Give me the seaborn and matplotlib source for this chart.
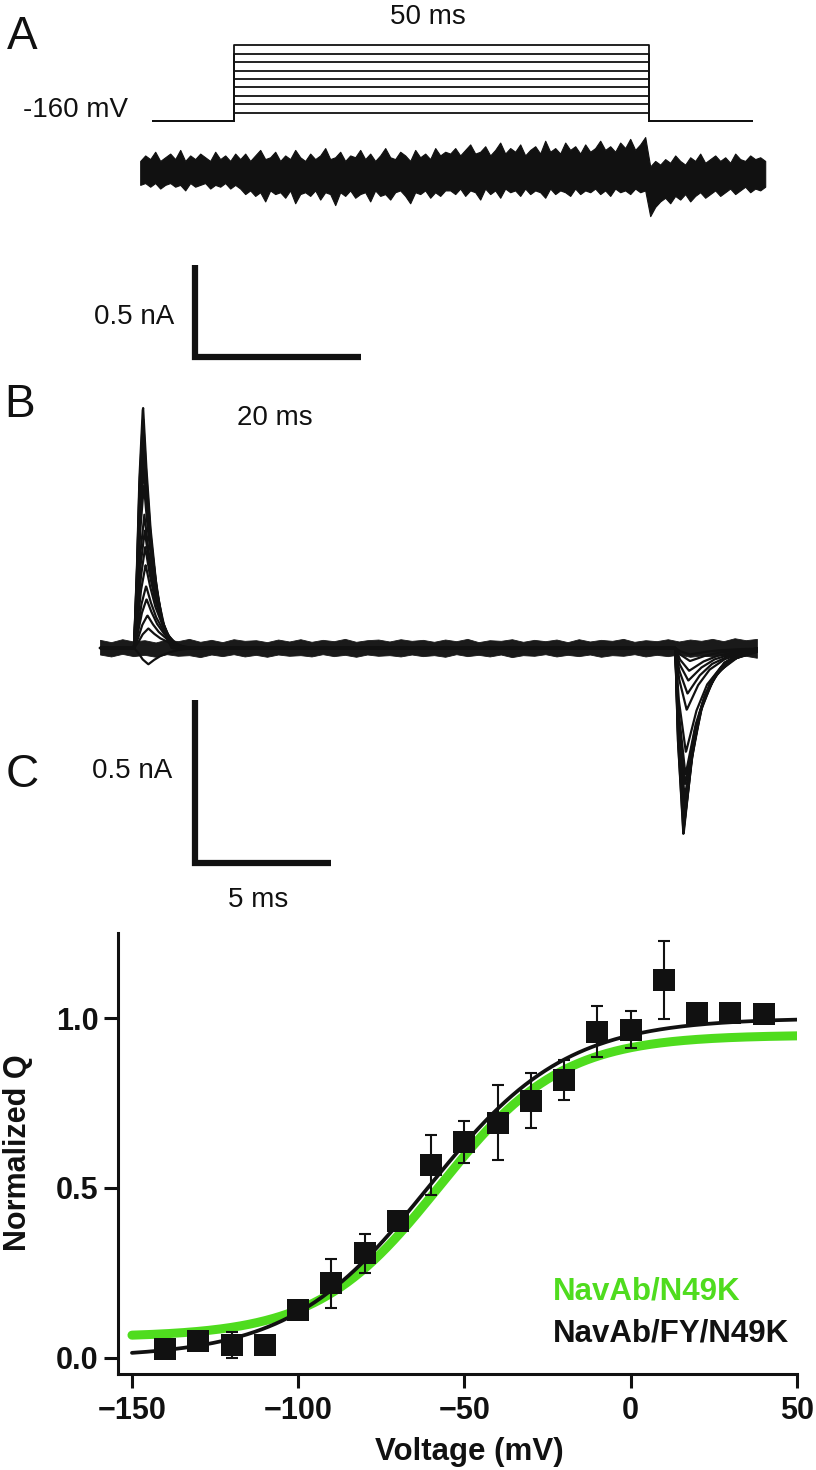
import numpy as np
import pandas as pd
import matplotlib
matplotlib.use("Agg")
import matplotlib.pyplot as plt
import seaborn as sns

sns.set_theme(style="white")
plt.rcParams['font.family'] = ['Liberation Sans', 'DejaVu Sans']

# ---------------- data ----------------
# Panel A: voltage protocol
hold_mV = -160
step_mV = [-140, -120, -100, -80, -60, -40, -20, 0, 20]
pulse_ms = 50
pre_ms, post_ms = 9.8, 12.4

# Panel A: current trace envelope (nA), read on a regular time grid
traceA_start, traceA_end = -11.3, 64.0
upperA = [0.06, 0.09, 0.07, 0.11, 0.06, 0.08, 0.10, 0.07, 0.12, 0.06, 0.09, 0.07, 0.10, 0.08, 0.06, 0.11, 0.07, 0.09, 0.06, 0.10,
          0.07, 0.10, 0.06, 0.09, 0.12, 0.07, 0.08, 0.11, 0.06, 0.09,
          0.07, 0.12, 0.08, 0.06, 0.10, 0.07, 0.09, 0.13, 0.07, 0.08,
          0.11, 0.06, 0.09, 0.08, 0.12, 0.07, 0.10, 0.06, 0.09, 0.13,
          0.08, 0.07, 0.11, 0.09, 0.06, 0.12, 0.08, 0.10, 0.07, 0.13,
          0.09, 0.11,
          0.10, 0.13, 0.09, 0.12, 0.15, 0.10, 0.11, 0.14, 0.09, 0.12,
          0.16, 0.10, 0.13, 0.11, 0.15, 0.09, 0.12, 0.14, 0.10, 0.17,
          0.11, 0.13, 0.10, 0.16, 0.12, 0.14, 0.10, 0.15, 0.11, 0.13,
          0.17, 0.12, 0.14, 0.11, 0.16, 0.13, 0.18, 0.12, 0.15, 0.19,
          0.03, 0.06, 0.04, 0.07, 0.05, 0.09, 0.06, 0.04, 0.08, 0.06,
          0.10, 0.05, 0.07, 0.09, 0.06, 0.08, 0.05, 0.10, 0.07, 0.06,
          0.09, 0.07, 0.08, 0.06]
lowerA = [-0.07, -0.06, -0.08, -0.06, -0.09, -0.07, -0.06, -0.08, -0.07, -0.10, -0.06, -0.08, -0.07, -0.06, -0.09, -0.07, -0.08, -0.06, -0.09, -0.07,
          -0.09, -0.12, -0.10, -0.13, -0.11, -0.16, -0.10, -0.12, -0.11, -0.14,
          -0.10, -0.17, -0.12, -0.11, -0.13, -0.10, -0.15, -0.11, -0.12, -0.18,
          -0.11, -0.13, -0.10, -0.14, -0.12, -0.11, -0.16, -0.10, -0.13, -0.12,
          -0.15, -0.11, -0.10, -0.13, -0.17, -0.11, -0.12, -0.10, -0.14, -0.11,
          -0.13, -0.10,
          -0.10, -0.12, -0.09, -0.13, -0.10, -0.11, -0.15, -0.09, -0.12, -0.10,
          -0.14, -0.09, -0.11, -0.10, -0.13, -0.09, -0.12, -0.10, -0.11, -0.14,
          -0.09, -0.12, -0.10, -0.11, -0.13, -0.09, -0.12, -0.10, -0.11, -0.09,
          -0.12, -0.10, -0.13, -0.09, -0.11, -0.10, -0.12, -0.09, -0.11, -0.10,
          -0.24, -0.19, -0.16, -0.14, -0.17, -0.13, -0.15, -0.12, -0.16, -0.13,
          -0.11, -0.14, -0.12, -0.10, -0.13, -0.11, -0.09, -0.12, -0.10, -0.08,
          -0.11, -0.09, -0.10, -0.08]

# Panel B: gating currents
traceB_start, traceB_end = -1.25, 22.9
off_onset_ms = 19.9
upperB = [0.025, 0.018, 0.027, 0.020, 0.024, 0.017, 0.026, 0.021, 0.028, 0.019,
          0.025, 0.018, 0.027, 0.022, 0.024, 0.018, 0.026, 0.020, 0.027, 0.019,
          0.025, 0.021, 0.028, 0.019, 0.024, 0.026, 0.020, 0.027, 0.022, 0.025,
          0.019, 0.026, 0.021, 0.028, 0.018, 0.024, 0.022, 0.027, 0.019, 0.025,
          0.021, 0.026, 0.018, 0.027, 0.020, 0.025, 0.022, 0.028, 0.019, 0.024,
          0.021, 0.027, 0.020, 0.026, 0.022, 0.028, 0.021, 0.030, 0.024, 0.028]
lowerB = [-0.020, -0.026, -0.018, -0.025, -0.021, -0.027, -0.019, -0.024, -0.022, -0.028,
          -0.020, -0.025, -0.019, -0.026, -0.021, -0.027, -0.020, -0.024, -0.022, -0.026,
          -0.019, -0.025, -0.021, -0.027, -0.020, -0.024, -0.022, -0.026, -0.020, -0.025,
          -0.022, -0.027, -0.019, -0.025, -0.021, -0.026, -0.020, -0.028, -0.022, -0.024,
          -0.019, -0.026, -0.021, -0.025, -0.020, -0.027, -0.022, -0.024, -0.019, -0.026,
          -0.021, -0.025, -0.020, -0.027, -0.023, -0.026, -0.021, -0.028, -0.024, -0.030]
on_amp_nA = [0.745, 0.71, 0.68, 0.64, 0.60, 0.55, 0.50, 0.41, 0.36, 0.31, 0.255, 0.19, 0.15, 0.10, 0.06, -0.05]
on_width = [1.0, 1.0, 1.0, 1.05, 1.05, 1.1, 1.1, 1.15, 1.2, 1.25, 1.3, 1.35, 1.4, 1.5, 1.6, 1.6]
off_amp_nA = [0.575, 0.565, 0.55, 0.53, 0.51, 0.49, 0.46, 0.42, 0.39, 0.32, 0.19, 0.14, 0.10, 0.07, 0.04, 0.02]
off_width = [1.0, 1.0, 1.05, 1.05, 1.1, 1.1, 1.15, 1.2, 1.25, 1.3, 1.4, 1.5, 1.6, 1.7, 1.8, 1.8]
on_tmpl_t = [0, 0.1, 0.2, 0.33, 0.45, 0.6, 0.8, 1.0, 1.2, 1.4]
on_tmpl_y = [0, 0.3, 0.7, 1.0, 0.75, 0.5, 0.28, 0.13, 0.05, 0]
off_tmpl_t = [0, 0.1, 0.3, 0.45, 0.6, 0.9, 1.3, 1.8, 2.4, 3.0]
off_tmpl_y = [0, 0.5, 1.0, 0.8, 0.6, 0.35, 0.18, 0.08, 0.03, 0]

# Panel C: Q-V
voltage = [-140, -130, -120, -110, -100, -90, -80, -70, -60, -50, -40, -30, -20, -10, 0, 10, 20, 30, 40]
q_norm = [0.025, 0.05, 0.036, 0.038, 0.14, 0.218, 0.307, 0.403, 0.567, 0.636, 0.692, 0.757,
          0.818, 0.96, 0.966, 1.113, 1.015, 1.015, 1.013]
q_err = [0, 0, 0.038, 0, 0.02, 0.073, 0.057, 0.02, 0.088, 0.062, 0.11, 0.081, 0.059, 0.075,
         0.054, 0.115, 0, 0, 0]
fit_fy = dict(bottom=0.0, top=1.0, vhalf=-61.0, slope=20.8)       # NavAb/FY/N49K
fit_wt = dict(bottom=0.06, top=0.95, vhalf=-57.5, slope=18.4)     # NavAb/N49K
series_names = ["NavAb/N49K", "NavAb/FY/N49K"]

GREEN = "#4fdc1e"
INK = "#111111"

# ---------------- layout helpers ----------------
W, H = 816, 1470
fig = plt.figure(figsize=(W / 100, H / 100), dpi=100)


def box(x0, y0, x1, y1):
    return [x0 / W, 1 - y1 / H, (x1 - x0) / W, (y1 - y0) / H]


def ptext(x, y, s, **kw):
    ha = kw.pop('ha', 'center')
    va = kw.pop('va', 'center')
    fig.text(x / W, 1 - y / H, s, ha=ha, va=va, **kw)


# ---------------- Panel A voltage ----------------
axV = fig.add_axes(box(100, 30, 780, 130))
t0x, pxms = 234, 8.3
axV.set_xlim((100 - t0x) / pxms, (780 - t0x) / pxms)
axV.set_ylim(hold_mV - (130 - 121) / 0.42, hold_mV + (121 - 30) / 0.42)
axV.set_axis_off()
for v in step_mV:
    tt = [-pre_ms, 0, 0, pulse_ms, pulse_ms, pulse_ms + post_ms]
    vv = [hold_mV, hold_mV, v, v, hold_mV, hold_mV]
    sns.lineplot(x=tt, y=vv, ax=axV, color=INK, lw=1.3, sort=False, estimator=None)

# ---------------- Panel A current ----------------
axA = fig.add_axes(box(100, 125, 780, 440))
axA.set_xlim((100 - t0x) / pxms, (780 - t0x) / pxms)
axA.set_ylim((172 - 440) / 184, (172 - 125) / 184)
axA.set_axis_off()
tA = np.linspace(traceA_start, traceA_end, len(upperA))
axA.fill_between(tA, lowerA, upperA, color=INK, lw=0.8, edgecolor=INK)
# scale bar A: 20 ms, 0.5 nA
sbx, sby = (195 - t0x) / pxms, (172 - 357) / 184
axA.plot([sbx, sbx, sbx + 20], [sby + 0.5, sby, sby], color=INK, lw=4.5,
         solid_joinstyle='miter', solid_capstyle='butt')

# ---------------- Panel B ----------------
axB = fig.add_axes(box(90, 380, 790, 930))
b0x, pxmsB, b0y, pxnA = 134, 27.2, 648, 326
axB.set_xlim((90 - b0x) / pxmsB, (790 - b0x) / pxmsB)
axB.set_ylim((b0y - 930) / pxnA, (b0y - 380) / pxnA)
axB.set_axis_off()
tB = np.linspace(traceB_start, traceB_end, len(upperB))
axB.fill_between(tB, lowerB, upperB, color="#1a1a1a", lw=0.6)
tgrid = np.linspace(traceB_start, traceB_end, 1600)
rows = []
for i, (a_on, w_on, a_off, w_off) in enumerate(zip(on_amp_nA, on_width, off_amp_nA, off_width)):
    on = a_on * np.interp(tgrid, np.array(on_tmpl_t) * w_on, on_tmpl_y, left=0, right=0)
    off = -a_off * np.interp(tgrid - off_onset_ms, np.array(off_tmpl_t) * w_off, off_tmpl_y, left=0, right=0)
    rows.append(pd.DataFrame({'t': tgrid, 'I': on + off, 'trace': i}))
dfB = pd.concat(rows)
sns.lineplot(data=dfB, x='t', y='I', units='trace', estimator=None, ax=axB,
             color=INK, lw=1.6, sort=False)
sbx, sby = (195 - b0x) / pxmsB, (b0y - 863) / pxnA
axB.plot([sbx, sbx, sbx + 5], [sby + 0.5, sby, sby], color=INK, lw=4.5,
         solid_joinstyle='miter', solid_capstyle='butt')

# ---------------- Panel C ----------------
axC = fig.add_axes(box(118, 933, 797, 1374))


def boltz(v, bottom, top, vhalf, slope):
    return bottom + (top - bottom) / (1 + np.exp(-(v - vhalf) / slope))


vfit = np.linspace(-150, 50, 400)
sns.lineplot(x=vfit, y=boltz(vfit, **fit_wt), ax=axC, color=GREEN, lw=6.5)
sns.lineplot(x=vfit, y=boltz(vfit, **fit_fy), ax=axC, color=INK, lw=2.7)
axC.errorbar(voltage, q_norm, yerr=q_err, fmt='none', ecolor=INK, elinewidth=1.5,
             capsize=4, capthick=1.5, zorder=4)
sns.scatterplot(x=voltage, y=q_norm, marker='s', s=245, color=INK, edgecolor=INK,
                linewidth=0, ax=axC, zorder=5)
axC.set_xlim(-154.2, 50)
axC.set_ylim(-0.0486, 1.2504)
axC.set_xticks([-150, -100, -50, 0, 50])
axC.set_yticks([0.0, 0.5, 1.0])
axC.set_yticklabels(['0.0', '0.5', '1.0'])
for s in ['top', 'right']:
    axC.spines[s].set_visible(False)
for s in ['left', 'bottom']:
    axC.spines[s].set_linewidth(2.2)
    axC.spines[s].set_color(INK)
axC.tick_params(bottom=True, left=True, direction='out', length=10, width=2.2,
                labelsize=22, color=INK, labelcolor=INK)
axC.tick_params(axis='x', pad=6)
axC.tick_params(axis='y', pad=4)
for lab in axC.get_xticklabels() + axC.get_yticklabels():
    lab.set_fontweight('bold')
axC.set_xlabel('')
axC.set_ylabel('')
axC.patch.set_alpha(0)

# ---------------- texts ----------------
ptext(22, 37, 'A', fontsize=33, color=INK)
ptext(20, 405, 'B', fontsize=33, color=INK)
ptext(22, 775, 'C', fontsize=33, color=INK)
ptext(428, 17, '50 ms', fontsize=20, color=INK)
ptext(128, 110, '-160 mV', fontsize=20, color=INK, ha='right')
ptext(134, 317, '0.5 nA', fontsize=20, color=INK)
ptext(275, 418, '20 ms', fontsize=20, color=INK)
ptext(132, 771, '0.5 nA', fontsize=20, color=INK)
ptext(258, 900, '5 ms', fontsize=20, color=INK)
ptext(18, 1153, 'Normalized Q', fontsize=22, fontweight='bold', rotation=90, color=INK)
ptext(469, 1452, 'Voltage (mV)', fontsize=22.5, fontweight='bold', color=INK)
ptext(553, 1291, series_names[0], fontsize=22.5, fontweight='bold', color=GREEN, ha='left')
ptext(553, 1334, series_names[1], fontsize=22.5, fontweight='bold', color=INK, ha='left')

fig.savefig('out.png', dpi=100, facecolor='white')
